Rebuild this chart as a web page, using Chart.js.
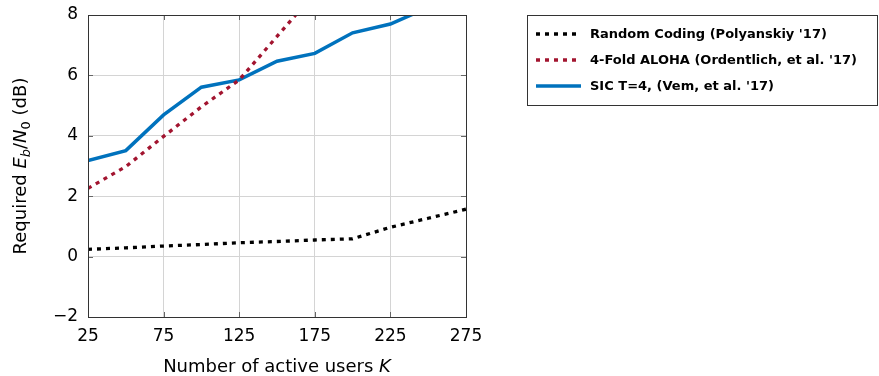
<!DOCTYPE html>
<html>
<head>
<meta charset="utf-8">
<script src="https://cdn.jsdelivr.net/npm/chart.js@4"></script>
<style>
  html, body { margin: 0; padding: 0; background: #fff; }
  #wrap { position: relative; width: 879px; height: 376px; }
</style>
</head>
<body>
<div id="wrap"><canvas id="chart" width="879" height="376"></canvas></div>
<script>
// values
const users = [25, 50, 75, 100, 125, 150, 175, 200, 225, 250, 275];
const randomCoding = [0.24, 0.29, 0.35, 0.40, 0.46, 0.50, 0.55, 0.59, 0.97, 1.27, 1.57];
const alohaUsers = [25, 50, 75, 100, 125, 150, 175];
const fourFoldAloha = [2.26, 2.98, 3.98, 4.96, 5.85, 7.29, 8.73];
const sicUsers = [25, 50, 75, 100, 125, 150, 175, 200, 225, 250];
const sicT4 = [3.18, 3.51, 4.69, 5.61, 5.85, 6.47, 6.73, 7.41, 7.70, 8.25];
const xTicks = [25, 75, 125, 175, 225, 275];
const legendLabels = [
  "Random Coding (Polyanskiy '17)",
  "4-Fold ALOHA (Ordentlich, et al. '17)",
  "SIC T=4, (Vem, et al. '17)"
];

const toPoints = (xs, ys) => xs.map((x, i) => ({ x: x, y: ys[i] }));
const FONT = "'DejaVu Sans', sans-serif";

// frame, inner tick marks, axis titles and legend box
const decorations = {
  id: 'decorations',
  afterDraw(chart) {
    const { ctx, chartArea: a, scales } = chart;
    ctx.save();
    // inner tick marks
    ctx.strokeStyle = '#666';
    ctx.lineWidth = 1;
    ctx.beginPath();
    xTicks.forEach(t => {
      const px = Math.round(scales.x.getPixelForValue(t)) + 0.5;
      ctx.moveTo(px, a.top); ctx.lineTo(px, a.top + 5);
      ctx.moveTo(px, a.bottom); ctx.lineTo(px, a.bottom - 5);
    });
    scales.y.ticks.forEach(t => {
      const py = Math.round(scales.y.getPixelForValue(t.value)) + 0.5;
      ctx.moveTo(a.left, py); ctx.lineTo(a.left + 5, py);
      ctx.moveTo(a.right, py); ctx.lineTo(a.right - 5, py);
    });
    ctx.stroke();
    // frame
    ctx.strokeStyle = '#333';
    ctx.strokeRect(Math.round(a.left) + 0.5, Math.round(a.top) + 0.5,
      Math.round(a.right - a.left), Math.round(a.bottom - a.top));

    // x title
    ctx.fillStyle = '#000';
    ctx.textBaseline = 'alphabetic';
    const xt1 = 'Number of active users ';
    ctx.font = 'italic 18px ' + FONT;
    const wK = ctx.measureText('K').width;
    ctx.font = '18px ' + FONT;
    const w1 = ctx.measureText(xt1).width;
    let sx = (a.left + a.right) / 2 - (w1 + wK) / 2;
    ctx.textAlign = 'left';
    ctx.fillText(xt1, sx, 372);
    ctx.font = 'italic 18px ' + FONT;
    ctx.fillText('K', sx + w1, 372);

    // y title: Required E_b/N_0 (dB)
    ctx.translate(26, (a.top + a.bottom) / 2);
    ctx.rotate(-Math.PI / 2);
    const parts = [
      ['Required ', '18px', 0],
      ['E', 'italic 18px', 0],
      ['b', 'italic 13px', 4],
      ['/', '18px', 0],
      ['N', 'italic 18px', 0],
      ['0', '13px', 4],
      [' (dB)', '18px', 0]
    ];
    let total = 0;
    parts.forEach(p => { ctx.font = p[1] + ' ' + FONT; total += ctx.measureText(p[0]).width; });
    let cx = -total / 2;
    parts.forEach(p => {
      ctx.font = p[1] + ' ' + FONT;
      ctx.fillText(p[0], cx, p[2]);
      cx += ctx.measureText(p[0]).width;
    });
    ctx.restore();

    // legend
    ctx.save();
    ctx.strokeStyle = '#333';
    ctx.lineWidth = 1;
    ctx.strokeRect(527.5, 15.5, 350, 90);
    const rowsY = [34, 60, 86];
    chart.data.datasets.forEach((ds, i) => {
      ctx.beginPath();
      ctx.strokeStyle = ds.borderColor;
      ctx.lineWidth = ds.borderWidth;
      ctx.setLineDash(ds.borderDash || []);
      ctx.moveTo(536, rowsY[i]);
      ctx.lineTo(581, rowsY[i]);
      ctx.stroke();
      ctx.setLineDash([]);
      ctx.fillStyle = '#000';
      ctx.font = 'bold 13px ' + FONT;
      ctx.textAlign = 'left';
      ctx.textBaseline = 'middle';
      ctx.fillText(legendLabels[i], 590, rowsY[i] + 1);
    });
    ctx.restore();
  }
};

new Chart(document.getElementById('chart'), {
  type: 'line',
  data: {
    datasets: [
      {
        label: legendLabels[0],
        data: toPoints(users, randomCoding),
        borderColor: '#000000',
        borderWidth: 3.3,
        borderDash: [4, 5],
        borderCapStyle: 'butt',
        pointRadius: 0,
        tension: 0
      },
      {
        label: legendLabels[1],
        data: toPoints(alohaUsers, fourFoldAloha),
        borderColor: '#A2142F',
        borderWidth: 3.3,
        borderDash: [4, 5],
        borderCapStyle: 'butt',
        pointRadius: 0,
        tension: 0
      },
      {
        label: legendLabels[2],
        data: toPoints(sicUsers, sicT4),
        borderColor: '#0072BD',
        borderWidth: 3.5,
        pointRadius: 0,
        tension: 0
      }
    ]
  },
  options: {
    responsive: false,
    animation: false,
    layout: { padding: { left: 0, right: 413, top: 15, bottom: 0 } },
    plugins: { legend: { display: false }, tooltip: { enabled: false } },
    scales: {
      x: {
        type: 'linear',
        min: 25,
        max: 275,
        afterBuildTicks: scale => { scale.ticks = xTicks.map(v => ({ value: v })); },
        afterFit: scale => { scale.height = 59; scale.paddingLeft = 0; scale.paddingRight = 0; },
        grid: { color: '#d4d4d4', drawTicks: false },
        border: { display: false },
        ticks: { color: '#000', font: { family: FONT, size: 17 }, padding: 9, maxRotation: 0 }
      },
      y: {
        min: -2,
        max: 8,
        afterFit: scale => { scale.width = 88; scale.paddingTop = 0; scale.paddingBottom = 0; },
        grid: { color: '#d4d4d4', drawTicks: false },
        border: { display: false },
        ticks: {
          stepSize: 2,
          color: '#000',
          font: { family: FONT, size: 17 },
          padding: 10,
          callback: v => (v < 0 ? '\u2212' + Math.abs(v) : v)
        }
      }
    }
  },
  plugins: [decorations]
});
</script>
</body>
</html>
